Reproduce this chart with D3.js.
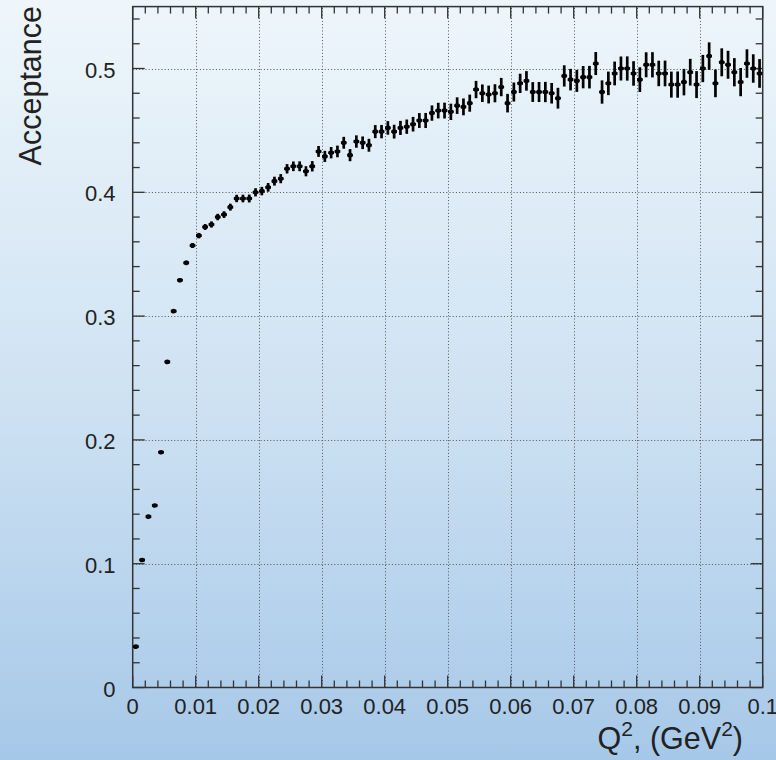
<!DOCTYPE html>
<html><head><meta charset="utf-8">
<script src="https://cdn.jsdelivr.net/npm/d3@7"></script>
<style>
html,body{margin:0;padding:0;}
svg{display:block;font-family:"Liberation Sans",Arial,Helvetica,sans-serif;}
</style></head>
<body><svg id="c" width="776" height="760"></svg>
<script>
// Histogram: 100 bins from 0 to 0.1 GeV^2
const binLow = 0, binHigh = 0.1, nBins = 100;
const acceptance = [
 0.033,0.103,0.138,0.147,0.190,0.263,0.304,0.329,0.343,0.357,
 0.365,0.372,0.374,0.380,0.382,0.388,0.395,0.395,0.395,0.400,
 0.401,0.404,0.409,0.411,0.419,0.421,0.421,0.417,0.421,0.433,
 0.429,0.432,0.433,0.440,0.430,0.441,0.440,0.438,0.449,0.449,
 0.452,0.449,0.452,0.453,0.455,0.458,0.458,0.464,0.466,0.466,
 0.465,0.470,0.469,0.472,0.483,0.480,0.479,0.480,0.485,0.472,
 0.481,0.488,0.490,0.481,0.481,0.481,0.480,0.476,0.494,0.491,
 0.490,0.493,0.493,0.504,0.481,0.488,0.496,0.500,0.500,0.496,
 0.491,0.503,0.503,0.496,0.496,0.487,0.487,0.489,0.497,0.487,
 0.500,0.510,0.488,0.505,0.503,0.497,0.489,0.504,0.500,0.496
];
const errors = [
 0.0008,0.0010,0.0012,0.0012,0.0013,0.0015,0.0018,0.0020,0.0022,0.0024,
 0.0026,0.0028,0.0029,0.0030,0.0031,0.0032,0.0034,0.0035,0.0036,0.0037,
 0.0038,0.0039,0.0040,0.0041,0.0042,0.0043,0.0044,0.0045,0.0046,0.0048,
 0.0049,0.0050,0.0051,0.0052,0.0053,0.0054,0.0055,0.0056,0.0057,0.0058,
 0.0059,0.0060,0.0061,0.0062,0.0063,0.0064,0.0065,0.0066,0.0067,0.0068,
 0.0070,0.0071,0.0072,0.0073,0.0074,0.0075,0.0076,0.0077,0.0078,0.0079,
 0.0081,0.0082,0.0083,0.0084,0.0085,0.0086,0.0087,0.0088,0.0090,0.0091,
 0.0093,0.0094,0.0095,0.0097,0.0098,0.0099,0.0100,0.0101,0.0102,0.0103,
 0.0104,0.0105,0.0106,0.0107,0.0108,0.0109,0.0110,0.0111,0.0112,0.0113,
 0.0114,0.0115,0.0116,0.0117,0.0117,0.0118,0.0118,0.0119,0.0119,0.0120
];
const xTickValues = [0,0.01,0.02,0.03,0.04,0.05,0.06,0.07,0.08,0.09,0.1];
const xTickLabels = ["0","0.01","0.02","0.03","0.04","0.05","0.06","0.07","0.08","0.09","0.1"];
const yTickValues = [0,0.1,0.2,0.3,0.4,0.5];
const yTickLabels = ["0","0.1","0.2","0.3","0.4","0.5"];
const xTitle = "Q";
const yTitle = "Acceptance";

const svg = d3.select("#c");
const W = 776, H = 760;
const L = 132.7, R = 762.7, T = 6.6, B = 687.5;

const defs = svg.append("defs");
const grad = defs.append("linearGradient").attr("id","bg").attr("x1",0).attr("y1",0).attr("x2",0).attr("y2",1);
grad.append("stop").attr("offset","0%").attr("stop-color","#eef6fb");
grad.append("stop").attr("offset","50%").attr("stop-color","#d0e3f3");
grad.append("stop").attr("offset","100%").attr("stop-color","#a6c8e8");
svg.append("rect").attr("width",W).attr("height",H).attr("fill","url(#bg)");

const x = d3.scaleLinear().domain([binLow, binHigh]).range([L, R]);
const y = d3.scaleLinear().domain([0, 0.55]).range([B, T]);

// grid
const gGrid = svg.append("g").attr("stroke","#555").attr("stroke-width",1).attr("stroke-dasharray","1,2.2");
gGrid.selectAll(".gx").data(xTickValues.slice(1,-1)).join("line")
  .attr("x1",d=>Math.round(x(d))+0.5).attr("x2",d=>Math.round(x(d))+0.5).attr("y1",B).attr("y2",T);
gGrid.selectAll(".gy").data(yTickValues.slice(1)).join("line")
  .attr("y1",d=>Math.round(y(d))+0.5).attr("y2",d=>Math.round(y(d))+0.5).attr("x1",L).attr("x2",R);

// ticks (inward) on all four sides
const tickCol = "#333";
const xMinor = d3.range(0, 101, 2).map(i=>i/1000).filter(v=>!xTickValues.some(t=>Math.abs(t-v)<1e-9));
const yMinor = d3.range(0, 55, 2).map(i=>i/100).filter(v=>!yTickValues.some(t=>Math.abs(t-v)<1e-9));
const gT = svg.append("g").attr("stroke",tickCol).attr("stroke-width",1.3);
function xt(vals, len){
  vals.forEach(v=>{
    const px = x(v);
    gT.append("line").attr("x1",px).attr("x2",px).attr("y1",B).attr("y2",B-len);
    gT.append("line").attr("x1",px).attr("x2",px).attr("y1",T).attr("y2",T+len);
  });
}
function yt(vals, len){
  vals.forEach(v=>{
    const py = y(v);
    gT.append("line").attr("y1",py).attr("y2",py).attr("x1",L).attr("x2",L+len);
    gT.append("line").attr("y1",py).attr("y2",py).attr("x1",R).attr("x2",R-len);
  });
}
xt(xTickValues, 12); xt(xMinor, 7);
yt(yTickValues, 12); yt(yMinor, 7);

// frame
svg.append("rect").attr("x",L).attr("y",T).attr("width",R-L).attr("height",B-T)
  .attr("fill","none").attr("stroke","#333").attr("stroke-width",1.5);

// tick labels
const gl = svg.append("g").attr("fill","#222").attr("font-size",22);
gl.selectAll(".xl").data(xTickValues).join("text")
  .attr("x",d=>x(d)).attr("y",713.5).attr("text-anchor","middle").text((d,i)=>xTickLabels[i]);
gl.selectAll(".yl").data(yTickValues).join("text")
  .attr("x",115.5).attr("y",d=>y(d)+9).attr("text-anchor","end").text((d,i)=>yTickLabels[i]);

// axis titles
const xt2 = svg.append("text").attr("x",743).attr("y",749).attr("text-anchor","end")
  .attr("font-size",30.5).attr("fill","#222");
xt2.append("tspan").text(xTitle);
xt2.append("tspan").attr("font-size",21).attr("dy",-13).text("2");
xt2.append("tspan").attr("dy",13).text(", (GeV");
xt2.append("tspan").attr("font-size",21).attr("dy",-13).text("2");
xt2.append("tspan").attr("dy",13).text(")");

svg.append("text").attr("transform","translate(41,6) rotate(-90)")
  .attr("text-anchor","end").attr("font-size",30.5).attr("fill","#222").text(yTitle);

// data: error bars + markers
const bw = (binHigh-binLow)/nBins;
const data = acceptance.map((v,i)=>({lo:binLow+i*bw, hi:binLow+(i+1)*bw, v, e:errors[i]}));
const gd = svg.append("g").attr("stroke","#000").attr("stroke-width",2.7);
gd.selectAll(".h").data(data).join("line")
  .attr("x1",d=>x(d.lo)+0.3).attr("x2",d=>x(d.hi)-0.3)
  .attr("y1",d=>y(d.v)).attr("y2",d=>y(d.v));
gd.selectAll(".v").data(data).join("line")
  .attr("x1",d=>x((d.lo+d.hi)/2)).attr("x2",d=>x((d.lo+d.hi)/2))
  .attr("y1",d=>y(d.v-d.e)-0.5).attr("y2",d=>y(d.v+d.e)+0.5);
svg.append("g").attr("fill","#000").selectAll("ellipse").data(data).join("ellipse")
  .attr("cx",d=>x((d.lo+d.hi)/2)).attr("cy",d=>y(d.v)).attr("rx",2.6).attr("ry",2.3);
</script></body></html>
